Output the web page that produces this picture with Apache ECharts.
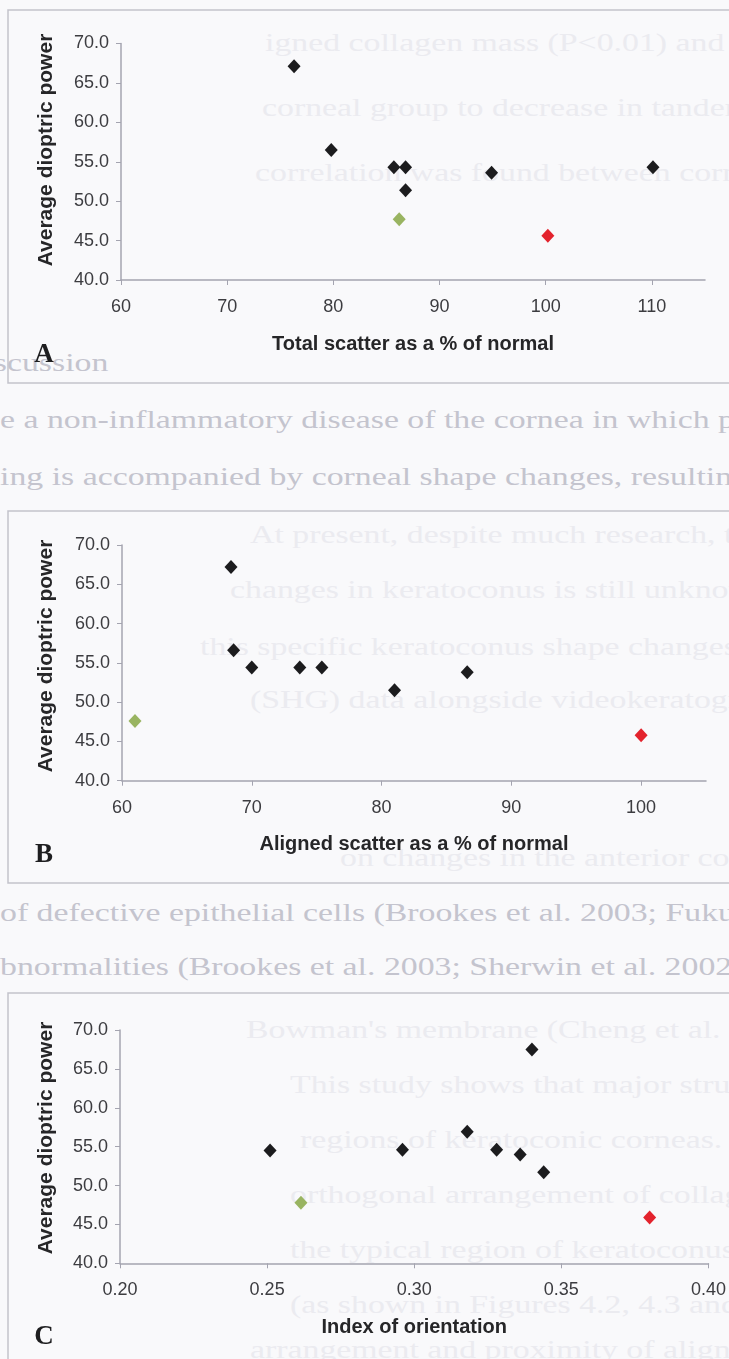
<!DOCTYPE html>
<html>
<head>
<meta charset="utf-8">
<script src="https://cdn.jsdelivr.net/npm/echarts@6/dist/echarts.min.js"></script>
<style>
  html, body { margin: 0; padding: 0; background: #f9f9fb; overflow: hidden; }
  #page { position: relative; width: 729px; height: 1359px; overflow: hidden; }
  .bg-line {
    position: absolute;
    white-space: nowrap;
    font-family: 'Liberation Serif', serif;
    font-size: 26px;
    line-height: 30px;
    transform: scaleX(1.3);
    transform-origin: 0 50%;
  }
  .gap { color: #c4c4ce; }
  .through { color: #ebebf0; }
  #chart { position: absolute; left: 0; top: 0; width: 729px; height: 1359px; }
</style>
</head>
<body>
<div id="page">
  <div id="text-layer"></div>
  <div id="chart"></div>
</div>
<script>
// dioptric power vs corneal measures, one panel per measure
// black = keratoconus samples, green / red = the two marked samples

// A: total scatter
const totalScatter = [76.3, 79.8, 85.7, 86.8, 86.8, 94.9, 110.1]
const powerA = [67.1, 56.5, 54.3, 54.3, 51.4, 53.6, 54.3]
const totalScatterGreen = [86.2]
const powerAGreen = [47.7]
const totalScatterRed = [100.2]
const powerARed = [45.6]

// B: aligned scatter
const alignedScatter = [68.4, 68.6, 70.0, 73.7, 75.4, 86.6, 81.0]
const powerB = [67.2, 56.6, 54.4, 54.4, 54.4, 53.8, 51.5]
const alignedScatterGreen = [61.0]
const powerBGreen = [47.6]
const alignedScatterRed = [100.0]
const powerBRed = [45.8]

// C: index of orientation
const orientation = [0.251, 0.296, 0.318, 0.328, 0.336, 0.340, 0.344]
const powerC = [54.5, 54.6, 56.9, 54.6, 54.0, 67.5, 51.7]
const orientationGreen = [0.2615]
const powerCGreen = [47.8]
const orientationRed = [0.380]
const powerCRed = [45.9]

const yTitle = 'Average dioptric power'
const xTitles = ['Total scatter as a % of normal', 'Aligned scatter as a % of normal', 'Index of orientation']
const panelLetters = ['A', 'B', 'C']
const xTicksA = [60, 70, 80, 90, 100, 110]
const xTicksB = [60, 70, 80, 90, 100]

// page text showing around / through the figure
const pageLines = [
  { x: 265, y: 43, cls: 'through', t: 'igned collagen mass (P<0.01) and slightly insignificant' },
  { x: 262, y: 108, cls: 'through', t: 'corneal group to decrease in tandem with an incr' },
  { x: 255, y: 173, cls: 'through', t: 'correlation was found between corneal dioptric' },
  { x: -40, y: 363, cls: 'gap', t: 'Discussion' },
  { x: 0, y: 420, cls: 'gap', t: 'e a non-inflammatory disease of the cornea in which prog' },
  { x: 0, y: 477, cls: 'gap', t: 'ing is accompanied by corneal shape changes, resulting in' },
  { x: 250, y: 535, cls: 'through', t: 'At present, despite much research, the exact' },
  { x: 230, y: 590, cls: 'through', t: 'changes in keratoconus is still unknown.  A' },
  { x: 200, y: 647, cls: 'through', t: 'this specific keratoconus shape changes or struct' },
  { x: 250, y: 700, cls: 'through', t: '(SHG) data alongside videokeratograph' },
  { x: 340, y: 858, cls: 'through', t: 'on changes in the anterior co' },
  { x: 0, y: 913, cls: 'gap', t: 'of defective epithelial cells (Brookes et al. 2003; Fukuchi' },
  { x: 0, y: 967, cls: 'gap', t: 'bnormalities (Brookes et al. 2003; Sherwin et al. 2002; Tahl' },
  { x: 246, y: 1030, cls: 'through', t: "Bowman's membrane (Cheng et al. 1997; Sawa" },
  { x: 290, y: 1085, cls: 'through', t: 'This study shows that major structural' },
  { x: 300, y: 1140, cls: 'through', t: 'regions of keratoconic corneas.  This' },
  { x: 290, y: 1195, cls: 'through', t: 'orthogonal arrangement of collagen (in' },
  { x: 290, y: 1250, cls: 'through', t: 'the typical region of keratoconus samples' },
  { x: 290, y: 1305, cls: 'through', t: '(as shown in Figures 4.2, 4.3 and 4.4)' },
  { x: 250, y: 1350, cls: 'through', t: 'arrangement and proximity of aligned co' },
]

const layer = document.getElementById('text-layer')
pageLines.forEach((l) => {
  const d = document.createElement('div')
  d.className = 'bg-line ' + l.cls
  d.style.left = l.x + 'px'
  d.style.top = (l.y - 15) + 'px'
  d.textContent = l.t
  layer.appendChild(d)
})

const AXIS_COLOR = '#a4a4b0'
const LABEL_COLOR = '#3c3c40'
const TITLE_COLOR = '#262628'
const FONT = "'Liberation Sans', Arial, sans-serif"

const grids = [
  { left: 121, top: 43.5, width: 584, height: 236.5 },
  { left: 122, top: 545, width: 584, height: 235.7 },
  { left: 120, top: 1030, width: 590, height: 233.3 },
]

function zip(xs, ys) {
  return xs.map((x, i) => [x, ys[i]])
}

function xAxis(gridIndex, min, max, ticks, digits, name) {
  const axis = {
    type: 'value',
    gridIndex,
    min,
    max,
    name,
    nameLocation: 'middle',
    nameGap: 54,
    nameTextStyle: { color: TITLE_COLOR, fontSize: 20, fontWeight: 'bold', fontFamily: FONT },
    splitLine: { show: false },
    axisLine: { show: true, onZero: false, lineStyle: { color: AXIS_COLOR, width: 1.5 } },
    axisTick: { show: true, inside: false, length: 5, lineStyle: { color: AXIS_COLOR } },
    axisLabel: {
      color: LABEL_COLOR, fontSize: 18, fontFamily: FONT, margin: 18,
      formatter: (v) => v.toFixed(digits),
    },
  }
  if (Array.isArray(ticks)) {
    axis.axisTick.customValues = ticks
    axis.axisLabel.customValues = ticks
  } else {
    axis.interval = ticks
  }
  return axis
}

function yAxis(gridIndex) {
  return {
    type: 'value',
    gridIndex,
    min: 40,
    max: 70,
    interval: 5,
    splitLine: { show: false },
    axisLine: { show: true, lineStyle: { color: AXIS_COLOR, width: 1.5 } },
    axisTick: { show: true, inside: false, length: 5, lineStyle: { color: AXIS_COLOR } },
    axisLabel: {
      color: LABEL_COLOR, fontSize: 18, fontFamily: FONT, margin: 12,
      formatter: (v) => v.toFixed(1),
    },
  }
}

function scatter(gridIndex, data, color) {
  return {
    type: 'scatter',
    xAxisIndex: gridIndex,
    yAxisIndex: gridIndex,
    data,
    symbol: 'diamond',
    symbolSize: [13, 14],
    itemStyle: { color, opacity: 1 },
    z: 3,
  }
}

const BLACK = '#1c1c1e'
const GREEN = '#99b461'
const RED = '#e3232d'

// panel frames, letters and rotated y titles
const frames = [[8, 10, 383], [8, 511, 883], [8, 993, 1400]]
const yTitleCenters = [150, 656, 1138]
const letterY = [355, 855, 1337]
const graphic = []
frames.forEach(([x, top, bottom], i) => {
  graphic.push({
    type: 'rect',
    shape: { x, y: top, width: 760, height: bottom - top },
    style: { fill: 'none', stroke: '#c3c3cc', lineWidth: 1.5 },
    silent: true,
  })
  graphic.push({
    type: 'text',
    x: 44,
    y: letterY[i],
    style: {
      text: panelLetters[i], fill: '#1e1e20', align: 'center', verticalAlign: 'middle',
      font: "bold 27px 'Liberation Serif', serif",
    },
  })
  graphic.push({
    type: 'text',
    x: 46,
    y: yTitleCenters[i],
    rotation: Math.PI / 2,
    style: {
      text: yTitle, fill: TITLE_COLOR, align: 'center', verticalAlign: 'middle',
      font: "bold 21px 'Liberation Sans', Arial, sans-serif",
    },
  })
})

const chart = echarts.init(document.getElementById('chart'), null, { renderer: 'canvas' })
chart.setOption({
  backgroundColor: 'transparent',
  animation: false,
  grid: grids,
  xAxis: [
    xAxis(0, 60, 115, xTicksA, 0, xTitles[0]),
    xAxis(1, 60, 105, xTicksB, 0, xTitles[1]),
    xAxis(2, 0.2, 0.4, 0.05, 2, xTitles[2]),
  ],
  yAxis: [yAxis(0), yAxis(1), yAxis(2)],
  graphic,
  series: [
    scatter(0, zip(totalScatter, powerA), BLACK),
    scatter(0, zip(totalScatterGreen, powerAGreen), GREEN),
    scatter(0, zip(totalScatterRed, powerARed), RED),
    scatter(1, zip(alignedScatter, powerB), BLACK),
    scatter(1, zip(alignedScatterGreen, powerBGreen), GREEN),
    scatter(1, zip(alignedScatterRed, powerBRed), RED),
    scatter(2, zip(orientation, powerC), BLACK),
    scatter(2, zip(orientationGreen, powerCGreen), GREEN),
    scatter(2, zip(orientationRed, powerCRed), RED),
  ],
})
</script>
</body>
</html>
